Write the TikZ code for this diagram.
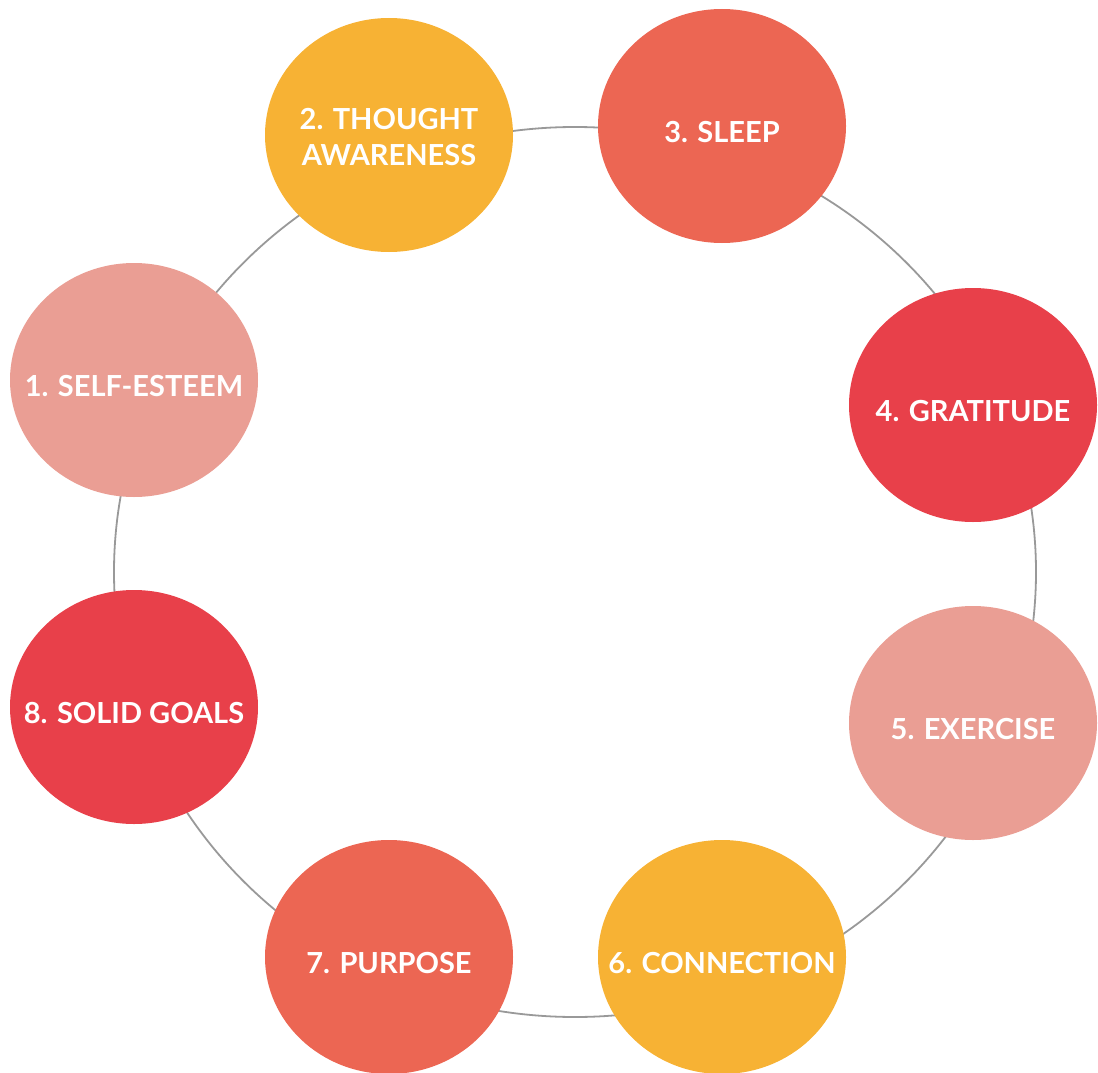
\documentclass[tikz,border=0pt]{standalone}
\usepackage{fontspec}
\setmainfont{Lato}
\usetikzlibrary{shapes.geometric}
\definecolor{rose}{HTML}{EA9E94}
\definecolor{amber}{HTML}{F7B234}
\definecolor{coral}{HTML}{EC6653}
\definecolor{crimson}{HTML}{E8404A}
\definecolor{ringgray}{HTML}{999999}
\begin{document}
\begin{tikzpicture}[x=1pt,y=-1pt,
    habit/.style={ellipse, fill=#1, draw=none, minimum width=248pt, minimum height=234pt,
      inner sep=0pt},
    tag/.style={text=white, font=\fontsize{29}{36}\selectfont\bfseries, inner sep=0pt,
      align=center, yshift=-6pt}]
    \useasboundingbox (0,0) rectangle (1098,1073);
    \coordinate (hub) at (575,572);
    \draw [ringgray, line width=1.8pt] (hub) ellipse [x radius=461pt, y radius=445pt];
    \node [habit=rose, label={[tag]center:1. SELF-ESTEEM}] (esteem) at (134,380) {};
    \node [habit=amber, label={[tag, yshift=4pt]center:2. THOUGHT\\AWARENESS}] (thought) at (389,135) {};
    \node [habit=coral, label={[tag]center:3. SLEEP}] (sleep) at (722,126) {};
    \node [habit=crimson, label={[tag]center:4. GRATITUDE}] (gratitude) at (973,405) {};
    \node [habit=rose, label={[tag]center:5. EXERCISE}] (exercise) at (973,723) {};
    \node [habit=amber, label={[tag]center:6. CONNECTION}] (connection) at (722,957) {};
    \node [habit=coral, label={[tag]center:7. PURPOSE}] (purpose) at (389,957) {};
    \node [habit=crimson, label={[tag]center:8. SOLID GOALS}] (goals) at (134,707) {};
  \end{tikzpicture}
\end{document}
